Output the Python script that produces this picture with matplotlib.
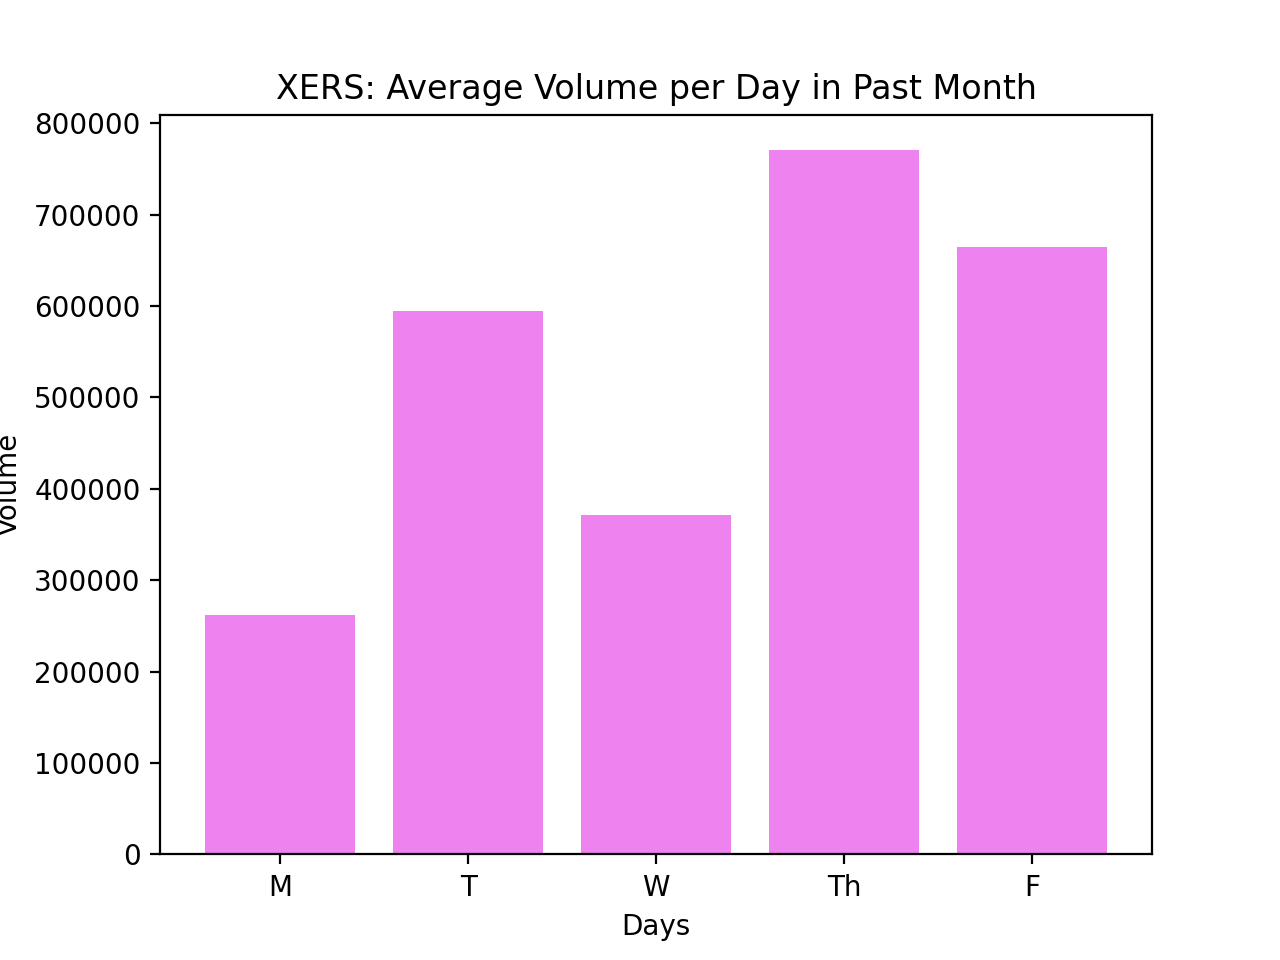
import matplotlib
matplotlib.use('Agg')
import matplotlib.pyplot as plt

days = ['M', 'T', 'W', 'Th', 'F']
volumes = [261500, 594200, 371000, 770400, 664300]

fig = plt.figure(figsize=(6.4, 4.8), dpi=200)
ax = fig.add_subplot(1, 1, 1)
ax.bar(days, volumes, color='violet')
ax.set_xlabel('Days')
ax.set_ylabel('Volume')
ax.set_title('XERS: Average Volume per Day in Past Month')
fig.savefig('out.png')
